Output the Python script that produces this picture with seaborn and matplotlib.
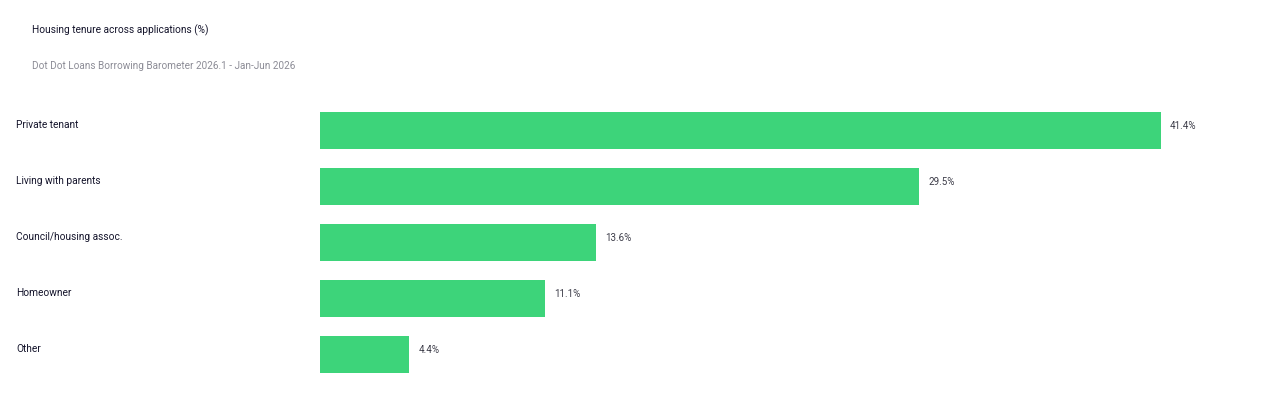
import pandas as pd
import seaborn as sns
import matplotlib.pyplot as plt

categories = ["Private tenant", "Living with parents", "Council/housing assoc.", "Homeowner", "Other"]
shares = [41.4, 29.5, 13.6, 11.1, 4.4]
value_labels = ["41.4%", "29.5%", "13.6%", "11.1%", "4.4%"]

title = "Housing tenure across applications (%)"
subtitle = "Dot Dot Loans Borrowing Barometer 2026.1 - Jan-Jun 2026"

df = pd.DataFrame({"tenure": categories, "share": shares})

sns.set_style("white")
plt.rcParams["font.family"] = ["Roboto", "DejaVu Sans"]

W, H = 1280, 416
fig = plt.figure(figsize=(W / 100, H / 100), dpi=100)
ax = fig.add_axes([320 / W, 1 - 382.5 / H, (1264 - 320) / W, (382.5 - 102.5) / H])

sns.barplot(data=df, x="share", y="tenure", color="#3DD47A", saturation=1,
            width=0.66, linewidth=0, ax=ax)
ax.set_xlim(0, (1264 - 320) / (841 / 41.4))
ax.set_ylim(4.5, -0.5)
ax.set_xlabel("")
ax.set_ylabel("")
ax.set_xticks([])
ax.set_yticks([])
sns.despine(ax=ax, left=True, bottom=True)

for i, (cat, v, lab) in enumerate(zip(categories, shares, value_labels)):
    # category labels sit at the left edge of the figure, a bit above bar centre
    y_fig = 1 - (124.5 + 56 * i) / H
    fig.text(16 / W, y_fig, cat, fontsize=7.3, color="#14142b", va="center", ha="left")
    ax.annotate(lab, (v, i), xytext=(6.5, 3), textcoords="offset points",
                fontsize=7, color="#3c3c48", va="center", ha="left")

fig.text(32 / W, 1 - 30 / H, title, fontsize=7.3, color="#14142b", va="center", ha="left")
fig.text(32 / W, 1 - 66 / H, subtitle, fontsize=7.2, color="#8c8c96", va="center", ha="left")

fig.savefig("out.png", dpi=100, facecolor="white")
